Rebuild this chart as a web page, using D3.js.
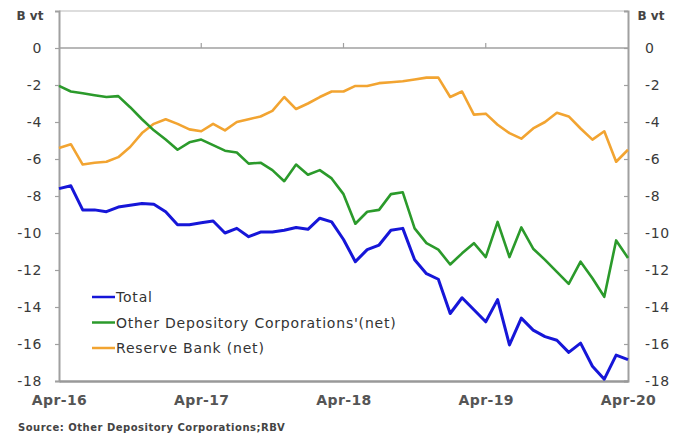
<!DOCTYPE html>
<html>
<head>
<meta charset="utf-8">
<script src="https://cdn.jsdelivr.net/npm/d3@7"></script>
<style>
  body { margin: 0; background: #fff; }
  svg text { font-family: "DejaVu Sans", sans-serif; fill: #333; }
</style>
</head>
<body>
<svg id="chart" width="675" height="439"></svg>
<script>
// monthly, Apr-16 .. Apr-20
const total = [
  -7.6, -7.45, -8.75, -8.75, -8.85, -8.6, -8.5, -8.4, -8.45, -8.85,
  -9.55, -9.55, -9.45, -9.35, -10.0, -9.75, -10.2, -9.95, -9.95, -9.85,
  -9.7, -9.8, -9.2, -9.4, -10.35, -11.55, -10.9, -10.65, -9.85, -9.75,
  -11.45, -12.2, -12.5, -14.35, -13.5, -14.15, -14.8, -13.6, -16.05, -14.6,
  -15.25, -15.6, -15.8, -16.45, -15.95, -17.2, -17.9, -16.6, -16.85
];
const odc = [
  -2.05, -2.35, -2.45, -2.55, -2.65, -2.6, -3.2, -3.85, -4.45, -4.95,
  -5.5, -5.1, -4.95, -5.25, -5.55, -5.65, -6.25, -6.2, -6.6, -7.2,
  -6.3, -6.85, -6.6, -7.05, -7.9, -9.5, -8.85, -8.75, -7.9, -7.8,
  -9.75, -10.55, -10.9, -11.7, -11.1, -10.55, -11.3, -9.4, -11.3, -9.7,
  -10.85, -11.45, -12.1, -12.75, -11.55, -12.45, -13.45, -10.4, -11.35
];
const rbv = [
  -5.4, -5.2, -6.3, -6.2, -6.15, -5.9, -5.35, -4.6, -4.1, -3.85,
  -4.1, -4.4, -4.5, -4.1, -4.45, -4.0, -3.85, -3.7, -3.4, -2.65,
  -3.3, -3.0, -2.65, -2.35, -2.35, -2.05, -2.05, -1.9, -1.85, -1.8,
  -1.7, -1.6, -1.6, -2.65, -2.35, -3.6, -3.55, -4.15, -4.6, -4.9,
  -4.35, -4.0, -3.5, -3.7, -4.35, -4.95, -4.5, -6.15, -5.5
];
const xTickLabels = ["Apr-16", "Apr-17", "Apr-18", "Apr-19", "Apr-20"];
const yTicks = [0, -2, -4, -6, -8, -10, -12, -14, -16, -18];
const seriesNames = ["Total", "Other Depository Corporations'(net)", "Reserve Bank (net)"];
const seriesColors = ["#1616d8", "#2b9a2b", "#f2a431"];
const unitLabel = "B vt";
const sourceText = "Source: Other Depository Corporations;RBV";

const svg = d3.select("#chart");
const width = +svg.attr("width");
const height = +svg.attr("height");
const margin = { top: 11, right: 47, bottom: 58, left: 59 };

const months = d3.range(total.length);
const x = d3.scaleLinear()
  .domain([0, months.length - 1])
  .range([margin.left, width - margin.right]);
const y = d3.scaleLinear()
  .domain([-18, 2])
  .range([height - margin.bottom, margin.top]);

const axisColor = "#a0a0a0";

// frame top + zero line
svg.append("line")
  .attr("x1", margin.left).attr("x2", width - margin.right)
  .attr("y1", y(2)).attr("y2", y(2))
  .attr("stroke", "#bbb").attr("stroke-width", 1.2);
svg.append("line")
  .attr("x1", margin.left).attr("x2", width - margin.right)
  .attr("y1", y(0)).attr("y2", y(0))
  .attr("stroke", axisColor).attr("stroke-width", 1.5);

// small ticks on zero line
const xTickVals = xTickLabels.map((d, i) => i * 12);
svg.append("g")
  .selectAll("line")
  .data(xTickVals.slice(1, -1))
  .join("line")
  .attr("x1", d => x(d)).attr("x2", d => x(d))
  .attr("y1", y(0)).attr("y2", y(0) - 5)
  .attr("stroke", axisColor).attr("stroke-width", 1.2);

// left axis
const left = svg.append("g")
  .attr("transform", `translate(${margin.left},0)`)
  .call(d3.axisLeft(y).tickValues(yTicks).tickSize(4).tickPadding(13).tickFormat(d => d));
// right axis (ticks pointing inward)
const right = svg.append("g")
  .attr("transform", `translate(${width - margin.right},0)`)
  .call(d3.axisRight(y).tickValues(yTicks).tickSize(-4).tickPadding(17).tickFormat(d => d));
[left, right].forEach(g => {
  g.select(".domain").attr("stroke", axisColor).attr("stroke-width", 2);
  g.selectAll(".tick line").attr("stroke", axisColor).attr("stroke-width", 1.2);
  g.selectAll(".tick text").attr("font-size", 14).attr("letter-spacing", 0.6).style("fill", "#3a3a3a");
});
right.selectAll(".tick text").attr("x", 17);

// unit labels
svg.append("text").attr("x", 30).attr("y", y(2) + 9)
  .attr("text-anchor", "middle").attr("font-size", 12).attr("font-weight", "bold")
  .style("fill", "#444").text(unitLabel);
svg.append("text").attr("x", 651).attr("y", y(2) + 9)
  .attr("text-anchor", "middle").attr("font-size", 12).attr("font-weight", "bold")
  .style("fill", "#444").text(unitLabel);

// bottom axis
const bottom = svg.append("g")
  .attr("transform", `translate(0,${height - margin.bottom})`)
  .call(d3.axisBottom(x).tickValues(xTickVals).tickSize(0).tickPadding(14)
    .tickFormat((d, i) => xTickLabels[i]));
bottom.select(".domain").attr("stroke", "#999").attr("stroke-width", 2.5);
bottom.selectAll(".tick text").attr("font-size", 14).attr("font-weight", "bold")
  .attr("letter-spacing", 0.4).style("fill", "#555");

// lines
const line = d3.line().x((d, i) => x(i)).y(d => y(d));
const series = [total, odc, rbv];
const widths = [3, 2.6, 2.6];
svg.append("g")
  .selectAll("path")
  .data([rbv, odc, total])
  .join("path")
  .attr("d", line)
  .attr("fill", "none")
  .attr("stroke", d => seriesColors[series.indexOf(d)])
  .attr("stroke-width", d => widths[series.indexOf(d)])
  .attr("stroke-linejoin", "round");

// legend
const legend = svg.append("g").attr("transform", "translate(92,297)");
seriesNames.forEach((name, i) => {
  const row = legend.append("g").attr("transform", `translate(0,${i * 25.5})`);
  row.append("line").attr("x1", 0).attr("x2", 23).attr("y1", 0).attr("y2", 0)
    .attr("stroke", seriesColors[i]).attr("stroke-width", 2.5);
  row.append("text").attr("x", 24).attr("y", 5).attr("font-size", 14)
    .attr("letter-spacing", 0.8).style("fill", "#333").text(name);
});

// source
svg.append("text").attr("x", 18).attr("y", 431).attr("font-size", 10)
  .attr("font-weight", "bold").attr("letter-spacing", 0.5)
  .style("fill", "#444").text(sourceText);
</script>
</body>
</html>
